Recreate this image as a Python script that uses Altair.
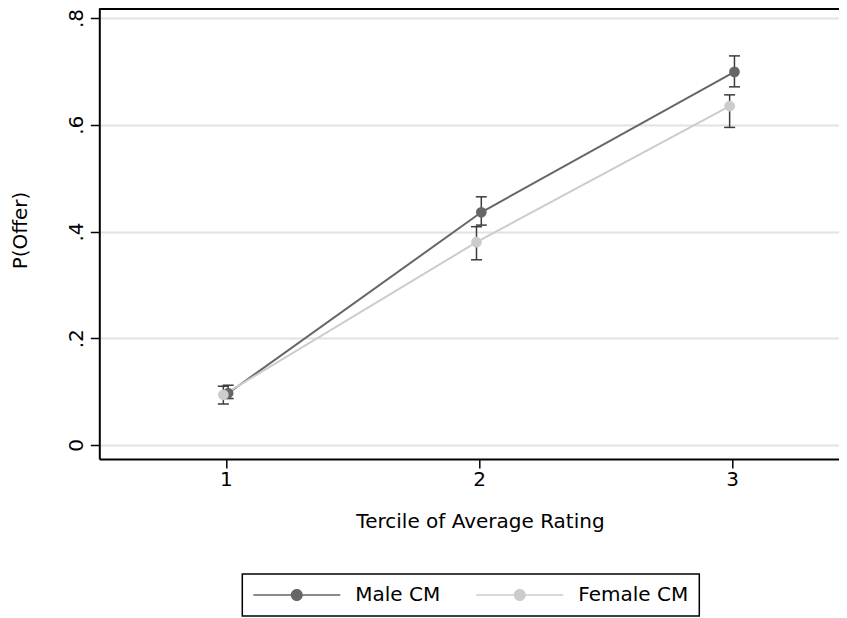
import altair as alt
import pandas as pd

# ---- data ----
terciles = [1, 2, 3]
groups = ["Male CM", "Female CM"]
male_p = [0.097, 0.436, 0.699]
male_lo = [0.087, 0.412, 0.671]
male_hi = [0.112, 0.465, 0.729]
female_p = [0.094, 0.380, 0.635]
female_lo = [0.077, 0.347, 0.595]
female_hi = [0.110, 0.409, 0.656]
y_ticks = [0, 0.2, 0.4, 0.6, 0.8]
x_ticks = [1, 2, 3]
colors = ["#666666", "#cccccc"]

rows = []
for g, p, lo, hi in [(groups[0], male_p, male_lo, male_hi),
                     (groups[1], female_p, female_lo, female_hi)]:
    for t, a, b, c in zip(terciles, p, lo, hi):
        rows.append({"group": g, "tercile": t, "p": a, "lo": b, "hi": c})
df = pd.DataFrame(rows)

W, H = 739.7, 451
FONT = "DejaVu Sans"
FS = 20
BAR = "#3c3c3c"

xsc = alt.Scale(domain=[0.5, 3.422], nice=False, zero=False)
ysc = alt.Scale(domain=[-0.02623, 0.81874], nice=False, zero=False)
csc = alt.Scale(domain=groups, range=colors)
# same mapping, listed in reverse so that the (hidden) stroke legend is not merged with the colour legend
ssc = alt.Scale(domain=groups[::-1], range=colors[::-1])

x_axis = alt.Axis(values=x_ticks, format="d", title="Tercile of Average Rating", grid=False,
                  labelPadding=17.7, labelBaseline="alphabetic", labelAlign="center",
                  titleX=380.7, titleY=68.3, titleAlign="center", titleBaseline="alphabetic")
y_axis = alt.Axis(values=y_ticks, title="P(Offer)", grid=True, gridColor="#e2e2e2", gridWidth=2,
                  labelExpr="datum.value == 0 ? '0' : replace(format(datum.value, '.1f'), '0.', '.')",
                  labelAngle=270, labelAlign="center", labelBaseline="alphabetic", labelPadding=8.3,
                  titleAngle=270, titleX=-72.5, titleY=222, titleAlign="center",
                  titleBaseline="alphabetic")

X = alt.X("xpos:Q", scale=xsc, axis=x_axis)

base = alt.Chart(df).transform_calculate(
    xpos="datum.tercile + (datum.group == 'Male CM' ? 0.009 : -0.01)",
    series="datum.group",
)

lines = base.mark_line(strokeWidth=2).encode(
    x=X,
    y=alt.Y("p:Q", scale=ysc, axis=y_axis),
    stroke=alt.Stroke("series:N", scale=ssc, legend=None),
)

bars = base.mark_rule(color=BAR, strokeWidth=1.5).encode(
    x=X,
    y=alt.Y("lo:Q", scale=ysc, axis=y_axis),
    y2=alt.Y2("hi:Q"),
)
cap_lo = base.mark_tick(orient="horizontal", size=11, thickness=1.5, color=BAR, opacity=1).encode(
    x=X, y=alt.Y("lo:Q", scale=ysc, axis=y_axis))
cap_hi = base.mark_tick(orient="horizontal", size=11, thickness=1.5, color=BAR, opacity=1).encode(
    x=X, y=alt.Y("hi:Q", scale=ysc, axis=y_axis))

SYMBOL = ("M-7.25,-0.125H7.25V0.125H-7.25Z "
          "M-1,0A1,1 0 1,1 1,0A1,1 0 1,1 -1,0Z")

points = base.mark_point(filled=True, shape="circle", size=115, opacity=1).encode(
    x=X,
    y=alt.Y("p:Q", scale=ysc, axis=y_axis),
    color=alt.Color("group:N", scale=csc, legend=alt.Legend(
        title=None, orient="none", legendX=143, legendY=566, direction="horizontal",
        symbolType=SYMBOL, symbolSize=144, symbolStrokeWidth=0, symbolOffset=33.5,
        labelOffset=48.5, columnPadding=36, padding=11,
        strokeColor="black", fillColor="white")),
)

top_border = alt.Chart(pd.DataFrame({"k": [0]})).mark_rule(color="black", strokeWidth=2).encode(
    x=alt.value(0), x2=alt.value(W), y=alt.value(1))

chart = alt.layer(lines, bars, cap_lo, cap_hi, points, top_border).properties(
    width=W, height=H,
    autosize=alt.AutoSizeParams(type="none"),
    padding={"left": 91.3, "top": 0, "right": 0, "bottom": 159},
    background="white",
).configure_view(stroke=None).configure_axis(
    labelFont=FONT, titleFont=FONT, labelFontSize=FS, titleFontSize=FS,
    titleFontWeight="normal", labelColor="black", titleColor="black",
    domainColor="black", domainWidth=2, tickColor="black", tickWidth=1.5, tickSize=9,
).configure_legend(
    labelFont=FONT, labelFontSize=FS, labelColor="black", strokeWidth=1.5,
)

chart.save("out.html", embed_options={"renderer": "svg", "actions": False})
